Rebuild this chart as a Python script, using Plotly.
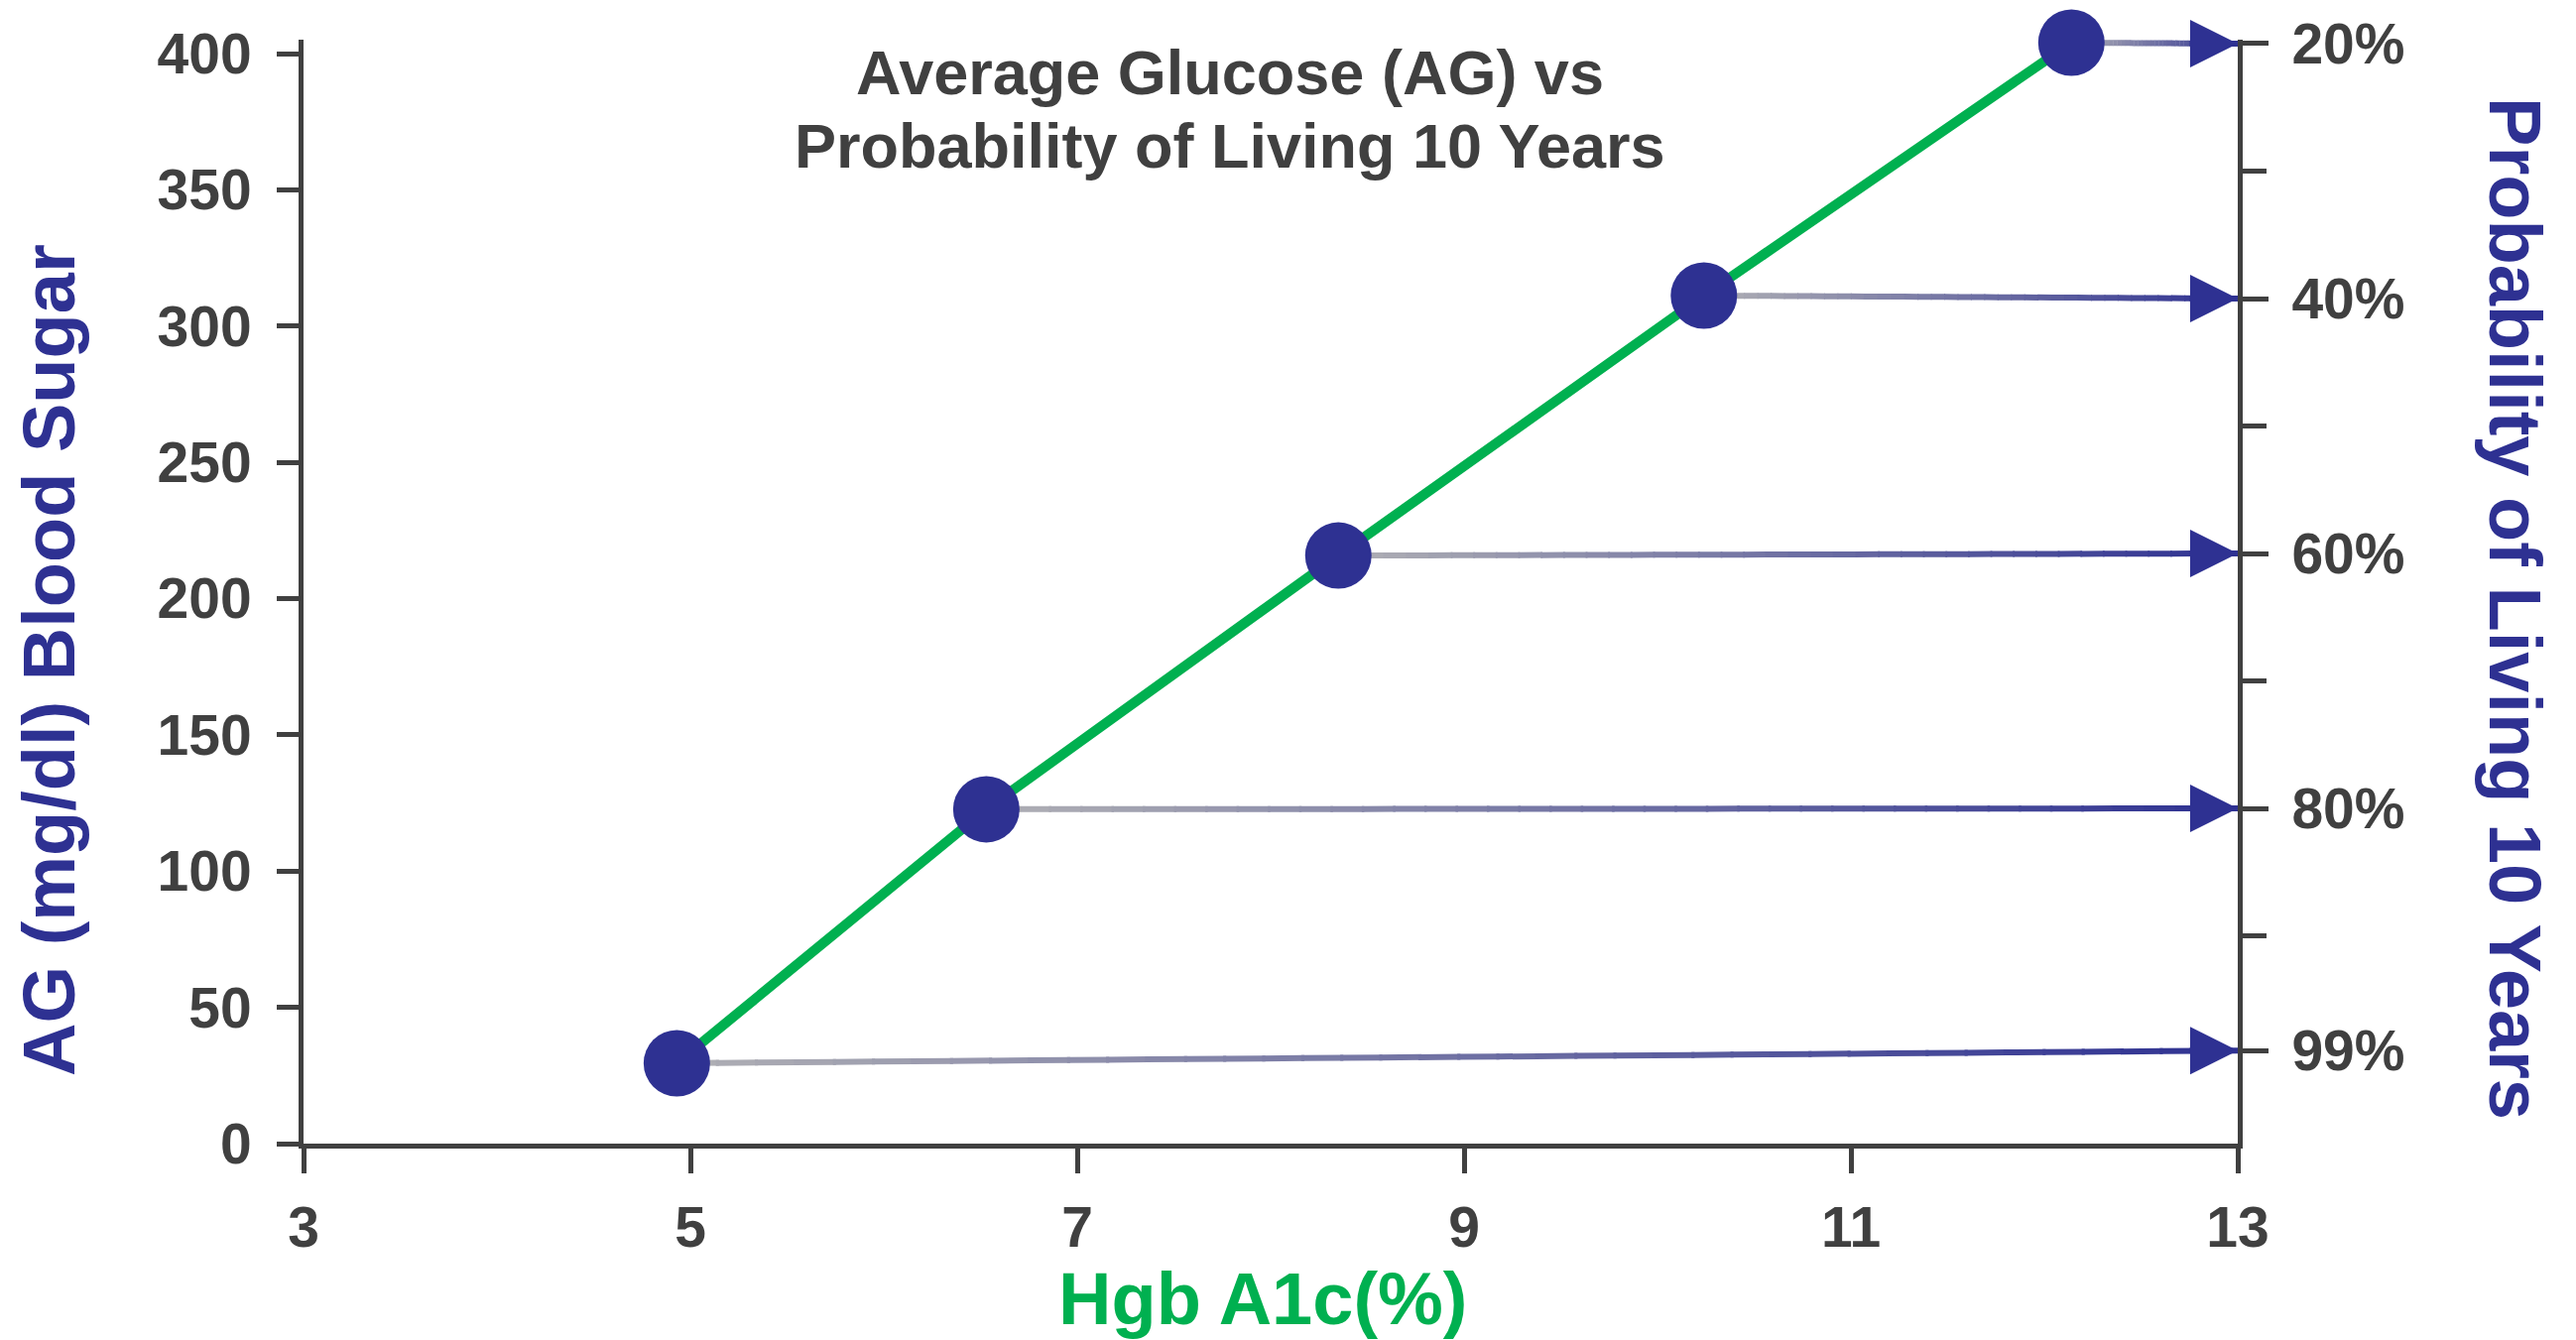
import plotly.graph_objects as go

# ---------------- data ----------------
hba1c = [4.93, 6.53, 8.35, 10.24, 12.14]          # Hgb A1c (%)
avg_glucose = [29.5, 122.7, 215.8, 311.2, 404.0]  # AG (mg/dl)
survival_pct = [99, 80, 60, 40, 20]               # probability of living 10 years (%)

x_tickvals = [3, 5, 7, 9, 11, 13]
y_tickvals = [0, 50, 100, 150, 200, 250, 300, 350, 400]
pct_tickvals = [20, 40, 60, 80, 99]
pct_ticktext = ["20%", "40%", "60%", "80%", "99%"]
pct_minorvals = [30, 50, 70, 90]

title_line1 = "Average Glucose (AG) vs"
title_line2 = "Probability of Living 10 Years"
x_title = "Hgb A1c(%)"
y_title = "AG (mg/dl) Blood Sugar"
y2_title = "Probability of Living 10 Years"

# ---------------- styles ----------------
X_RANGE = [3, 13]
Y_RANGE = [0, 405.1]
Y2_RANGE = [106.30, 19.69]   # reversed: 20% at top

NAVY = "#2E3192"
GREEN = "#00B050"
GREY = "#404040"
FONT = "Liberation Sans"
START_RGB = (176, 176, 180)
END_RGB = (46, 49, 146)


def pct_to_left(p):
    frac = (p - Y2_RANGE[0]) / (Y2_RANGE[1] - Y2_RANGE[0])
    return Y_RANGE[0] + frac * (Y_RANGE[1] - Y_RANGE[0])


fig = go.Figure()

# gradient connector lines (dot -> right axis)
shapes = []
N = 40
for xv, yv, pv in zip(hba1c, avg_glucose, survival_pct):
    x0, y0 = xv, yv
    x1, y1 = X_RANGE[1], pct_to_left(pv)
    for k in range(N):
        t0, t1 = k / N, (k + 1) / N
        tm = (t0 + t1) / 2
        c = tuple(round(START_RGB[j] + (END_RGB[j] - START_RGB[j]) * tm) for j in range(3))
        t1e = min(t1 + 0.002, 1.0)
        shapes.append(dict(
            type="line", xref="x", yref="y", layer="below",
            x0=x0 + (x1 - x0) * t0, y0=y0 + (y1 - y0) * t0,
            x1=x0 + (x1 - x0) * t1e, y1=y0 + (y1 - y0) * t1e,
            line=dict(color="rgb(%d,%d,%d)" % c, width=6),
        ))

# green line with navy dots
fig.add_trace(go.Scatter(
    x=hba1c, y=avg_glucose, mode="lines+markers",
    line=dict(color=GREEN, width=10),
    marker=dict(color=NAVY, size=67, line=dict(width=0)),
    cliponaxis=False, showlegend=False, hoverinfo="skip",
))

# invisible trace on right axis (anchors the secondary axis)
fig.add_trace(go.Scatter(
    x=[X_RANGE[1]] * len(survival_pct), y=survival_pct, yaxis="y2",
    mode="markers", marker=dict(opacity=0), showlegend=False, hoverinfo="skip",
))

annotations = []
# arrowheads
for pv in survival_pct:
    annotations.append(dict(
        x=X_RANGE[1], y=pv, xref="x", yref="y2", ax=-50, ay=0,
        showarrow=True, arrowhead=2, arrowsize=1.6, arrowwidth=6,
        arrowcolor=NAVY, text="",
    ))

# title
annotations.append(dict(
    text=title_line1, xref="paper", yref="paper", x=0.479, y=0.970,
    xanchor="center", yanchor="middle", showarrow=False,
    font=dict(family=FONT, size=63, color=GREY, weight="bold"),
))
annotations.append(dict(
    text=title_line2, xref="paper", yref="paper", x=0.479, y=0.904,
    xanchor="center", yanchor="middle", showarrow=False,
    font=dict(family=FONT, size=63, color=GREY, weight="bold"),
))
# axis titles
annotations.append(dict(
    text=y_title, xref="paper", yref="paper", x=-0.1313, y=0.4385,
    xanchor="center", yanchor="middle", textangle=-90, showarrow=False,
    font=dict(family=FONT, size=74, color=NAVY, weight="bold"),
))
annotations.append(dict(
    text=y2_title, xref="paper", yref="paper", x=1.143, y=0.4843,
    xanchor="center", yanchor="middle", textangle=90, showarrow=False,
    font=dict(family=FONT, size=74, color=NAVY, weight="bold"),
))
annotations.append(dict(
    text=x_title, xref="paper", yref="paper", x=0.496, y=-0.141,
    xanchor="center", yanchor="middle", showarrow=False,
    font=dict(family=FONT, size=74, color=GREEN, weight="bold"),
))

tickfont = dict(family=FONT, size=57, color=GREY, weight="bold")

fig.update_layout(
    width=2597, height=1351,
    margin=dict(l=306, r=341, t=40, b=198),
    paper_bgcolor="white", plot_bgcolor="white",
    showlegend=False,
    shapes=shapes, annotations=annotations,
    xaxis=dict(
        range=X_RANGE, tickvals=x_tickvals, ticktext=[str(v) for v in x_tickvals],
        showline=True, linecolor=GREY, linewidth=5,
        ticks="outside", ticklen=25, tickwidth=5, tickcolor=GREY,
        showgrid=False, zeroline=False, tickfont=tickfont, ticklabelstandoff=6,
    ),
    yaxis=dict(
        range=Y_RANGE, tickvals=y_tickvals,
        showline=True, linecolor=GREY, linewidth=5,
        ticks="outside", ticklen=22, tickwidth=5, tickcolor=GREY,
        showgrid=False, zeroline=False, tickfont=tickfont, ticklabelstandoff=14,
    ),
    yaxis2=dict(
        range=Y2_RANGE, overlaying="y", side="right", anchor="x",
        tickvals=pct_tickvals, ticktext=pct_ticktext,
        showline=True, linecolor=GREY, linewidth=5,
        ticks="outside", ticklen=26, tickwidth=5, tickcolor=GREY,
        minor=dict(tickvals=pct_minorvals, ticks="outside", ticklen=24,
                   tickwidth=5, tickcolor=GREY, showgrid=False),
        showgrid=False, zeroline=False, tickfont=tickfont, ticklabelstandoff=12,
    ),
)

fig.write_html("out.html", config={"displayModeBar": False})
